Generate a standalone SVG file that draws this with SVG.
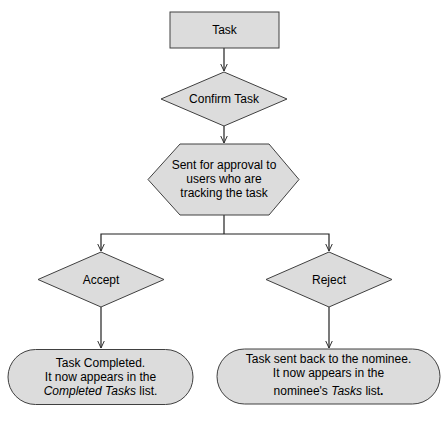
<svg xmlns="http://www.w3.org/2000/svg" width="446" height="421" viewBox="0 0 446 421">
<defs>
<marker id="arr" markerUnits="userSpaceOnUse" viewBox="0 0 8 8" refX="7.5" refY="4" markerWidth="8" markerHeight="8" orient="auto">
<path d="M0,0.5 L7.5,4 L0,7.5" fill="none" stroke="#303030" stroke-width="1"/>
</marker>
<style>
.shape{fill:#dcdcdc;stroke:#404040;stroke-width:1}
.lbl{font-family:"Liberation Sans",Arial,sans-serif;font-size:12px;fill:#000;text-anchor:middle}
.conn{fill:none;stroke:#202020;stroke-width:1.2}
</style>
</defs>
<rect width="446" height="421" fill="#ffffff"/>
<g id="connectors">
<line class="conn" x1="224" y1="48" x2="224" y2="71" marker-end="url(#arr)"/>
<line class="conn" x1="224" y1="126" x2="224" y2="143" marker-end="url(#arr)"/>
<polyline class="conn" points="224,215 224,234"/>
<polyline class="conn" points="224,234 101,234 101,251" marker-end="url(#arr)"/>
<polyline class="conn" points="224,234 329,234 329,251" marker-end="url(#arr)"/>
<line class="conn" x1="101" y1="307" x2="101" y2="348" marker-end="url(#arr)"/>
<line class="conn" x1="329" y1="307" x2="329" y2="348" marker-end="url(#arr)"/>
</g>
<g id="task">
<rect class="shape" x="170" y="12" width="109" height="36"/>
<text class="lbl" x="224.5" y="34">Task</text>
</g>
<g id="confirm">
<polygon class="shape" points="224,72 287,99 224,126 161,99"/>
<text class="lbl" x="224" y="103">Confirm Task</text>
</g>
<g id="sent">
<polygon class="shape" points="148,179.5 180,144 269,144 299,179.5 269,215 180,215"/>
<text class="lbl" x="224" y="169">Sent for approval to</text>
<text class="lbl" x="224" y="183">users who are</text>
<text class="lbl" x="224" y="197">tracking the task</text>
</g>
<g id="accept">
<polygon class="shape" points="101,252 164,279.5 101,307 38,279.5"/>
<text class="lbl" x="101" y="284">Accept</text>
</g>
<g id="reject">
<polygon class="shape" points="329,252 392,279.5 329,307 266,279.5"/>
<text class="lbl" x="329" y="284">Reject</text>
</g>
<g id="completed">
<rect class="shape" x="8" y="349.5" width="185" height="55" rx="27.5" ry="27.5"/>
<text class="lbl" x="100.5" y="367">Task Completed.</text>
<text class="lbl" x="100.5" y="381">It now appears in the</text>
<text class="lbl" x="100.5" y="395"><tspan font-style="italic">Completed Tasks</tspan> list.</text>
</g>
<g id="sentback">
<rect class="shape" x="217" y="349" width="223" height="55" rx="27.5" ry="27.5"/>
<text class="lbl" x="328.5" y="363">Task sent back to the nominee.</text>
<text class="lbl" x="328.5" y="377">It now appears in the</text>
<text class="lbl" x="328.5" y="395">nominee's <tspan font-style="italic">Tasks</tspan> list<tspan font-weight="bold">.</tspan></text>
</g>
</svg>
